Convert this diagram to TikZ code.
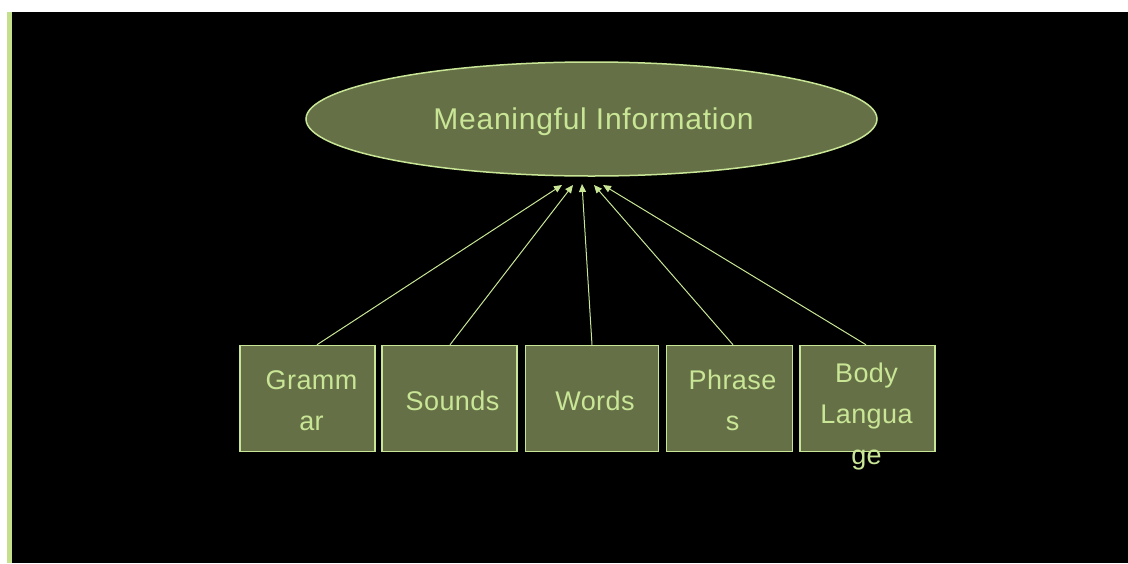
\documentclass[tikz,border=0pt]{standalone}
\usepackage{fontspec}
\newfontfamily\boxfont[LetterSpace=1.5]{Liberation Sans}
\newfontfamily\ovalfont[LetterSpace=2.5]{Liberation Sans}
\usetikzlibrary{arrows.meta,calc,shapes.geometric}
\definecolor{olive}{RGB}{102,112,70}
\definecolor{lime}{RGB}{200,230,150}
\definecolor{bar}{RGB}{196,224,140}
\tikzset{
  card/.style={draw=lime, fill=olive, line width=1.5pt, minimum width=134pt, minimum height=106pt, inner sep=0pt},
  cardtext/.style={text=lime, align=center, inner sep=0pt, font=\boxfont\fontsize{27}{41}\selectfont},
  link/.style={draw=lime, line width=1pt, -{Triangle[length=8pt,width=7pt]}},
}
\begin{document}
\begin{tikzpicture}[x=1pt,y=-1pt]
  \useasboundingbox (0,0) rectangle (1128,563);
  \fill[white] (0,0) rectangle (1128,563);
  % slide area
  \fill[black] (7,12) rectangle (1128,563);
  \fill[bar] (7,12) rectangle (12,563);

  % top concept
  \node[ellipse, draw=lime, fill=olive, line width=1.5pt, minimum width=571pt, minimum height=114pt, inner sep=0pt] (mi) at (591.5,119) {};
  \node[text=lime, inner sep=0pt, font=\ovalfont\fontsize{30}{36}\selectfont] (mit) at ($(mi.center)+(2,3)$) {Meaningful Information};

  % component boxes
  \node[card, minimum width=135pt] (g) at (307.5,398.5) {};
  \node[card, minimum width=135pt] (s) at (449.5,398.5) {};
  \node[card, minimum width=133pt] (w) at (592,398.5) {};
  \node[card, minimum width=126pt] (p) at (729.5,398.5) {};
  \node[card, minimum width=135pt] (b) at (867.5,398.5) {};

  \node[cardtext] (gt) at ($(g.center)+(4,2)$) {Gramm\\ar};
  \node[cardtext] (st) at ($(s.center)+(3,2)$) {Sounds};
  \node[cardtext] (wt) at ($(w.center)+(3,2)$) {Words};
  \node[cardtext] (pt) at ($(p.center)+(3,2)$) {Phrase\\s};
  \node[cardtext] (bt) at ($(b.center)+(-1,18)$) {Body\\Langua\\ge};

  % arrow targets below the oval
  \coordinate (eg) at (562,185);
  \coordinate (es) at (573,185);
  \coordinate (ew) at (582,184);
  \coordinate (ep) at (594,185);
  \coordinate (eb) at (603,185);

  \draw[link] ($(g.north)+(9.5,0)$) -- (eg);
  \draw[link] ($(s.north)+(0.5,0)$) -- (es);
  \draw[link] (w.north) -- (ew);
  \draw[link] ($(p.north)+(3.5,0)$) -- (ep);
  \draw[link] ($(b.north)+(-1.5,0)$) -- (eb);
\end{tikzpicture}
\end{document}
